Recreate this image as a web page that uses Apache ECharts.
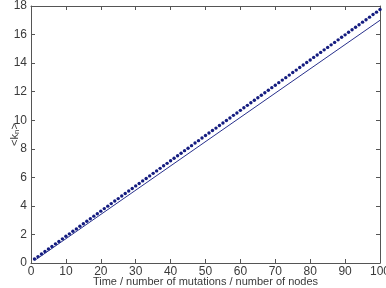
<!DOCTYPE html>
<html>
<head>
<meta charset="utf-8">
<script src="https://cdn.jsdelivr.net/npm/echarts@6/dist/echarts.min.js"></script>
<style>
  html, body { margin: 0; padding: 0; background: #fff; }
  #chart { width: 386px; height: 288px; }
</style>
</head>
<body>
<div id="chart"></div>
<script>
// measured <k_n>, one dot per time step
var times = [];
for (var i = 1; i <= 100; i++) { times.push(i); }
var kn = [
  0.28, 0.45, 0.63, 0.81, 0.98, 1.16, 1.34, 1.51, 1.69, 1.87,
  2.04, 2.22, 2.39, 2.57, 2.75, 2.92, 3.10, 3.28, 3.45, 3.63,
  3.81, 3.98, 4.16, 4.34, 4.51, 4.69, 4.87, 5.04, 5.22, 5.40,
  5.57, 5.75, 5.92, 6.10, 6.28, 6.45, 6.63, 6.81, 6.98, 7.16,
  7.34, 7.51, 7.69, 7.87, 8.04, 8.22, 8.40, 8.57, 8.75, 8.93,
  9.10, 9.28, 9.45, 9.63, 9.81, 9.98, 10.16, 10.34, 10.51, 10.69,
  10.87, 11.04, 11.22, 11.40, 11.57, 11.75, 11.92, 12.10, 12.28, 12.45,
  12.63, 12.81, 12.98, 13.16, 13.34, 13.51, 13.69, 13.87, 14.04, 14.22,
  14.40, 14.57, 14.75, 14.93, 15.10, 15.28, 15.45, 15.63, 15.81, 15.98,
  16.16, 16.34, 16.51, 16.69, 16.87, 17.04, 17.22, 17.40, 17.57, 17.75
];
// straight reference line
var lineX = [1, 100];
var lineY = [0.17, 17.0];

var dots = times.map(function (t, i) { return [t, kn[i]]; });
var line = lineX.map(function (t, i) { return [t, lineY[i]]; });

var axisCol = '#555';
var textCol = '#3a3a3a';
var font = 'Liberation Sans, Arial, sans-serif';

function boxAxis(pos, show) {
    return {
        type: 'value',
        position: pos,
        nameMoveOverlap: false,
        axisLine: { show: true, onZero: false, lineStyle: { color: axisCol, width: 1 } },
        axisTick: { show: true, inside: true, length: 4, lineStyle: { color: axisCol } },
        splitLine: { show: false },
        axisLabel: { show: show, color: textCol, fontSize: 12, fontFamily: font, margin: 4 }
    };
}

var xBottom = boxAxis('bottom', true);
xBottom.min = 0; xBottom.max = 100; xBottom.interval = 10;
xBottom.axisLabel.margin = 3;
xBottom.name = 'Time / number of mutations / number of nodes';
xBottom.nameLocation = 'middle';
xBottom.nameGap = 13;
xBottom.nameTextStyle = { color: textCol, fontSize: 11, fontFamily: font, verticalAlign: 'top' };
var xTop = boxAxis('top', false);
xTop.min = 0; xTop.max = 100; xTop.interval = 10;

var yLeft = boxAxis('left', true);
yLeft.min = 0; yLeft.max = 18; yLeft.interval = 2;
yLeft.name = '<k{sub|n}>';
yLeft.nameLocation = 'middle';
yLeft.nameGap = 10;
yLeft.nameRotate = 90;
yLeft.nameTextStyle = {
    color: textCol, fontSize: 11, fontFamily: font, verticalAlign: 'bottom',
    rich: { sub: { fontSize: 8, color: textCol, fontFamily: font, verticalAlign: 'bottom', padding: [5, 0, 0, 0] } }
};
var yRight = boxAxis('right', false);
yRight.min = 0; yRight.max = 18; yRight.interval = 2;

var chart = echarts.init(document.getElementById('chart'));
chart.setOption({
    animation: false,
    backgroundColor: '#fff',
    grid: { left: 31, right: 6, top: 6, bottom: 25, containLabel: false, outerBoundsMode: 'none' },
    xAxis: [xBottom, xTop],
    yAxis: [yLeft, yRight],
    series: [
        {
            name: 'fit', type: 'line', data: line,
            showSymbol: false, symbol: 'none',
            lineStyle: { color: '#28308c', width: 1 }
        },
        {
            name: 'kn', type: 'scatter', data: dots,
            symbol: 'circle', symbolSize: 3.4,
            itemStyle: { color: '#141c80', opacity: 1 }
        }
    ]
});
</script>
</body>
</html>
